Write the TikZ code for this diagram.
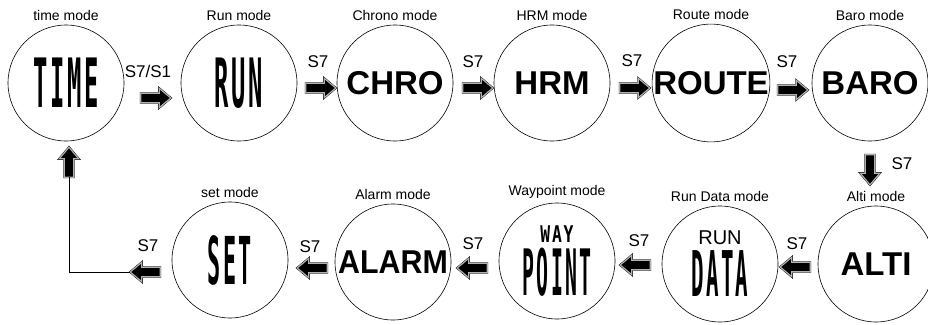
\documentclass[tikz,border=0pt]{standalone}
\usepackage{fontspec}
\setmainfont{Liberation Sans}
\newfontfamily\lcdfont[LetterSpace=11]{DejaVu Sans Mono}
\usepackage{graphicx}
\usetikzlibrary{shapes.arrows}

\tikzset{
  mode/.style={circle, draw, line width=0.6pt, minimum size=116pt, inner sep=0pt},
  modename/.style={font=\fontsize{14}{16}\selectfont, above=1pt},
  keyname/.style={font=\fontsize{17}{19}\selectfont},
  bigtext/.style={font=\fontsize{33}{36}\selectfont\bfseries},
  push/.style={single arrow, draw=black, line width=0.4pt, double=gray!60,
    double distance=1.2pt, fill=black, inner xsep=0pt, inner ysep=4.5pt,
    minimum height=30pt, single arrow head extend=5pt, single arrow tip angle=80},
  pushv/.style={push, inner xsep=4.5pt, inner ysep=0pt},
}
\newcommand\lcd[3]{\scalebox{#1}[1]{\fontsize{#2}{#2}\selectfont\lcdfont\bfseries #3}}

\begin{document}
\begin{tikzpicture}[x=1pt,y=-1pt]
  \useasboundingbox (0,0) rectangle (928,324);
  % top row
  \node[mode] (time)  at (66,83)  {\lcd{0.35}{68}{TIME}};
  \node[mode] (run)   at (239,83) {\lcd{0.35}{68}{RUN}};
  \node[mode,bigtext] (chro)  at (395,83) {CHRO};
  \node[mode,bigtext] (hrm)   at (552,83) {HRM};
  \node[mode,bigtext] (route) at (711,83) {ROUTE};
  \node[mode,bigtext] (baro)  at (870,83) {BARO};
  % bottom row
  \node[mode,bigtext] (alti)  at (876,264) {ALTI};
  \node[mode,align=center] (data) at (720,264)
    {{\fontsize{20}{22}\selectfont RUN}\\[5pt]\lcd{0.33}{63}{DATA}};
  \node[mode,align=center] (way) at (557,261)
    {\lcd{0.71}{23}{WAY}\\[5pt]\lcd{0.31}{64}{POINT}};
  \node[mode,bigtext] (alarm) at (393,262) {\scalebox{0.92}[1]{ALARM}};
  \node[mode] (set)   at (230,260) {\lcd{0.33}{66}{SET}};

  \node[modename] at (time.north)  {time mode};
  \node[modename] at (run.north)   {Run mode};
  \node[modename] at (chro.north)  {Chrono mode};
  \node[modename] at (hrm.north)   {HRM mode};
  \node[modename] at (route.north) {Route mode};
  \node[modename] at (baro.north)  {Baro mode};
  \node[modename] at (alti.north)  {Alti mode};
  \node[modename] at (data.north)  {Run Data mode};
  \node[modename] at (way.north)   {Waypoint mode};
  \node[modename] at (alarm.north) {Alarm mode};
  \node[modename] at (set.north)   {set mode};

  % key arrows
  \node[push] (p1) at (153,98) {};
  \node[push] (p2) at (318,88) {};
  \node[push] (p3) at (475,88) {};
  \node[push] (p4) at (632,88) {};
  \node[push] (p5) at (790,90) {};
  \node[pushv,shape border rotate=270] (p6) at (870,167) {};
  \node[push,shape border rotate=180] (p7) at (798,267) {};
  \node[push,shape border rotate=180] (p8) at (638,265) {};
  \node[push,shape border rotate=180] (p9) at (475,268) {};
  \node[push,shape border rotate=180] (p10) at (315,268) {};
  \node[push,shape border rotate=180] (p11) at (148,272) {};
  \node[pushv,shape border rotate=90] (back) at (69,165) {};
  \draw[line width=0.8pt] (p11.tip) -| (back.tail);

  \node[keyname] (k1) at (148,71) {S7/S1};
  \node[keyname] (k2) at (318,62) {S7};
  \node[keyname] (k3) at (473,62) {S7};
  \node[keyname] (k4) at (632,61) {S7};
  \node[keyname] (k5) at (787,62) {S7};
  \node[keyname] (k6) at (902,164) {S7};
  \node[keyname] (k7) at (797,244) {S7};
  \node[keyname] (k8) at (639,241) {S7};
  \node[keyname] (k9) at (473,244) {S7};
  \node[keyname] (k10) at (310,247) {S7};
  \node[keyname] (k11) at (148,246) {S7};
\end{tikzpicture}
\end{document}
